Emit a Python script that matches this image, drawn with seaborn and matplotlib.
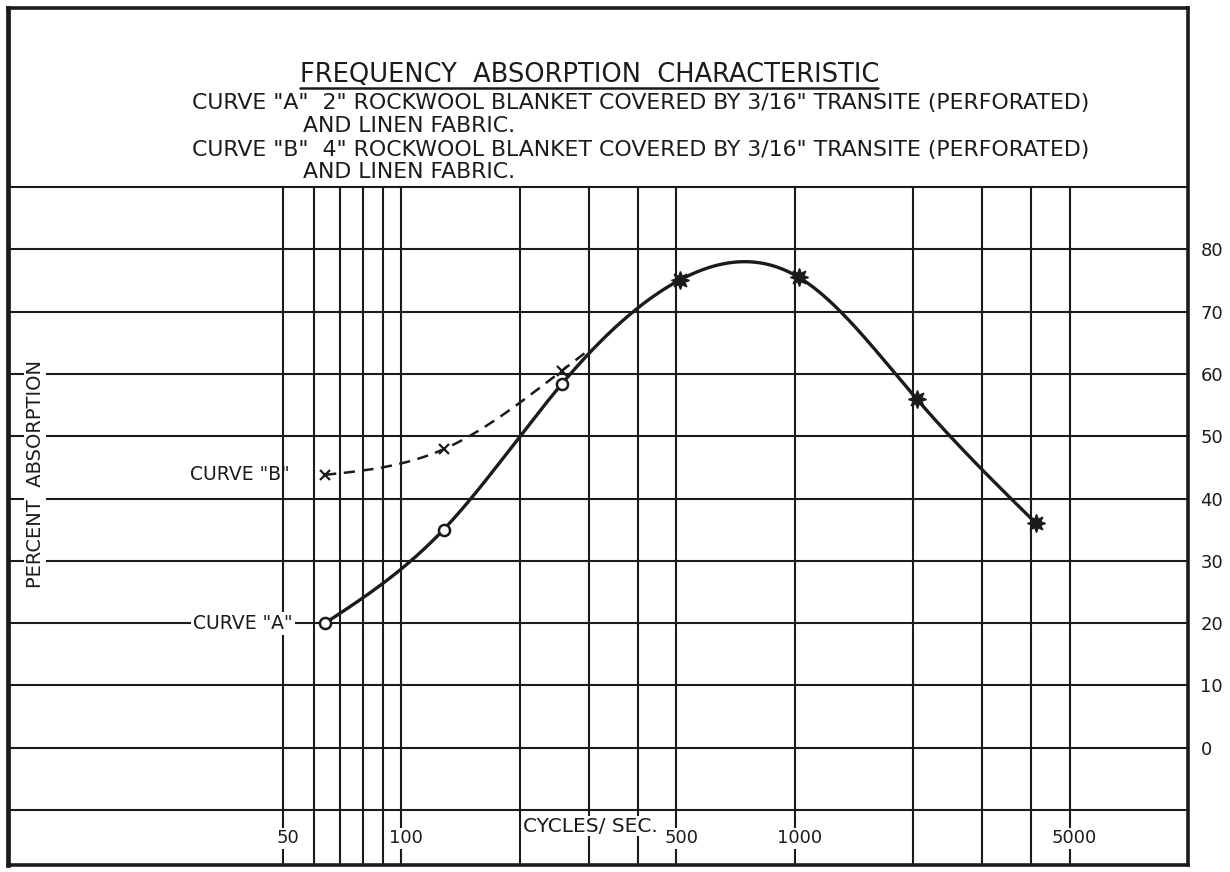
import numpy as np
import matplotlib
matplotlib.use("Agg")
import matplotlib.pyplot as plt
from matplotlib.lines import Line2D
import matplotlib.transforms as mtransforms
import seaborn as sns
import pandas as pd

# ---------------- data ----------------
freq_a = [64, 128, 256, 512, 1024, 2048, 4096]
absorption_a = [20.0, 35.0, 58.4, 75.1, 75.5, 55.9, 36.1]
open_marker_freqs = [64, 128, 256]          # curve A points drawn as open circles
freq_b = [64, 128, 256]
absorption_b = [43.8, 47.9, 60.5]
b_join_freq = 300                           # where dashed curve B merges into curve A

x_grid = [50, 60, 70, 80, 90, 100, 200, 300, 400, 500, 1000, 2000, 3000, 4000, 5000]
x_label_vals = [50, 100, 500, 1000, 5000]
x_label_txt = ["50", "100", "500", "1000", "5000"]
y_grid = [-10, 0, 10, 20, 30, 40, 50, 60, 70, 80, 90]
y_label_vals = [0, 10, 20, 30, 40, 50, 60, 70, 80]

title = "FREQUENCY  ABSORPTION  CHARACTERISTIC"
desc_lines = [
    'CURVE "A"  2" ROCKWOOL BLANKET COVERED BY 3/16" TRANSITE (PERFORATED)',
    'AND LINEN FABRIC.',
    'CURVE "B"  4" ROCKWOOL BLANKET COVERED BY 3/16" TRANSITE (PERFORATED)',
    'AND LINEN FABRIC.',
]

# ---------------- style ----------------
sns.set_theme(style="white")
plt.rcParams["font.family"] = ["DejaVu Sans"]
INK = "#1b1b1b"
W, H = 1230, 872

fig = plt.figure(figsize=(W / 100, H / 100), dpi=100)
fig.patch.set_facecolor("white")
ax = fig.add_axes([8 / W, 7 / H, 1180 / W, 857 / H])
ax.set_facecolor("white")
ax.set_xscale("log")
ax.set_xlim(10, 10000)
YMIN, YMAX = -18.8, 118.7
ax.set_ylim(YMIN, YMAX)

for s in ax.spines.values():
    s.set_color(INK)
    s.set_linewidth(2.6)
ax.spines["left"].set_linewidth(3.4)


def px_to_x(px):
    return 10 ** (1 + 3 * (px - 8) / 1180)


# ---------------- smooth curves (natural cubic spline through the read points) ----------------
def natural_spline(xk, yk, xs):
    xk = np.asarray(xk, float)
    yk = np.asarray(yk, float)
    n = len(xk)
    h = np.diff(xk)
    A = np.zeros((n, n))
    r = np.zeros(n)
    A[0, 0] = A[-1, -1] = 1
    for i in range(1, n - 1):
        A[i, i - 1] = h[i - 1]
        A[i, i] = 2 * (h[i - 1] + h[i])
        A[i, i + 1] = h[i]
        r[i] = 3 * ((yk[i + 1] - yk[i]) / h[i] - (yk[i] - yk[i - 1]) / h[i - 1])
    c = np.linalg.solve(A, r)
    b = np.diff(yk) / h - h * (2 * c[:-1] + c[1:]) / 3
    d = np.diff(c) / (3 * h)
    idx = np.clip(np.searchsorted(xk, xs) - 1, 0, n - 2)
    dx = xs - xk[idx]
    return yk[idx] + b[idx] * dx + c[idx] * dx ** 2 + d[idx] * dx ** 3


ua = np.log10(freq_a)
us = np.linspace(ua[0], ua[-1], 400)
curve_a = pd.DataFrame({"freq": 10 ** us, "abs": natural_spline(ua, absorption_a, us)})
sns.lineplot(data=curve_a, x="freq", y="abs", ax=ax, color=INK, lw=2.4,
             estimator=None, sort=False, zorder=3)

# curve B continues into curve A's later points
ub_k = np.log10(freq_b + freq_a[3:4])
yb_k = absorption_b + absorption_a[3:4]
ub = np.linspace(ub_k[0], np.log10(b_join_freq), 200)
curve_b = pd.DataFrame({"freq": 10 ** ub, "abs": natural_spline(ub_k, yb_k, ub)})
sns.lineplot(data=curve_b, x="freq", y="abs", ax=ax, color=INK, lw=1.8,
             estimator=None, sort=False, zorder=3)
ax.lines[-1].set_dashes((4.5, 3))

# markers
pts = pd.DataFrame({"freq": freq_a, "abs": absorption_a})
open_pts = pts[pts["freq"].isin(open_marker_freqs)]
star_pts = pts[~pts["freq"].isin(open_marker_freqs)]
ax.plot(open_pts["freq"], open_pts["abs"], ls="none", marker="o", ms=8,
        mfc="white", mec=INK, mew=1.8, zorder=4)
ax.plot(star_pts["freq"], star_pts["abs"], ls="none", marker=(8, 1, 0), ms=13,
        mfc=INK, mec=INK, mew=1.0, zorder=4)
ax.plot(freq_b, absorption_b, ls="none", marker="x", ms=7, mec=INK, mew=1.6, zorder=4)

# axes cosmetics (after seaborn, which sets its own labels)
ax.set_xlabel("")
ax.set_ylabel("")
ax.set_xscale("log")
ax.set_xlim(10, 10000)
ax.set_ylim(YMIN, YMAX)
ax.xaxis.set_major_locator(matplotlib.ticker.NullLocator())
ax.xaxis.set_minor_locator(matplotlib.ticker.NullLocator())
ax.set_yticks(y_grid)
ax.set_yticklabels([str(v) if v in y_label_vals else "" for v in y_grid])
ax.tick_params(axis="y", left=False, right=False, labelleft=False, labelright=True,
               labelsize=13, pad=3, labelcolor=INK)
ax.yaxis.grid(True, color=INK, lw=1.5)
ax.xaxis.grid(False)
ax.set_axisbelow(True)

# vertical grid lines stop at the 90 line (title area above)
ax.vlines(x_grid, YMIN, 90, colors=INK, lw=1.5, zorder=0.5)

# ---------------- annotations ----------------
bb = dict(facecolor="white", edgecolor="none", pad=1.5)
ax.text(px_to_x(193), absorption_a[0], 'CURVE "A"', ha="left", va="center",
        fontsize=13.5, color=INK, bbox=bb, zorder=5)
ax.text(px_to_x(190), absorption_b[0], 'CURVE "B"', ha="left", va="center",
        fontsize=13.5, color=INK, zorder=5)

lab_off = mtransforms.ScaledTranslation(5 / 100, 0, fig.dpi_scale_trans)
for v, t in zip(x_label_vals, x_label_txt):
    ax.text(v, -14.5, t, ha="center", va="center", fontsize=13, color=INK,
            transform=ax.transData + lab_off,
            bbox=dict(facecolor="white", edgecolor="none", pad=1.0), zorder=5)
ax.text(px_to_x(590), -12.6, "CYCLES/ SEC.", ha="center", va="center",
        fontsize=14.5, color=INK, bbox=dict(facecolor="white", edgecolor="none", pad=0.5),
        zorder=5)

ax.text(px_to_x(35), 44.0, "PERCENT  ABSORPTION", rotation=90, ha="center",
        va="center", fontsize=14, color=INK,
        bbox=dict(facecolor="white", edgecolor="none", pad=1.0), zorder=5)

fig.text(300 / W, 1 - 75 / H, title, ha="left", va="center", fontsize=18.5, color=INK)
fig.add_artist(Line2D([300 / W, 878 / W], [1 - 88 / H, 1 - 88 / H], color=INK, lw=1.8))
desc_x = [192, 303, 192, 303]
desc_y = [103, 126, 150, 172]
for x, y, t in zip(desc_x, desc_y, desc_lines):
    fig.text(x / W, 1 - y / H, t, ha="left", va="center", fontsize=15.8, color=INK)

fig.savefig("out.png", dpi=100, facecolor="white")
